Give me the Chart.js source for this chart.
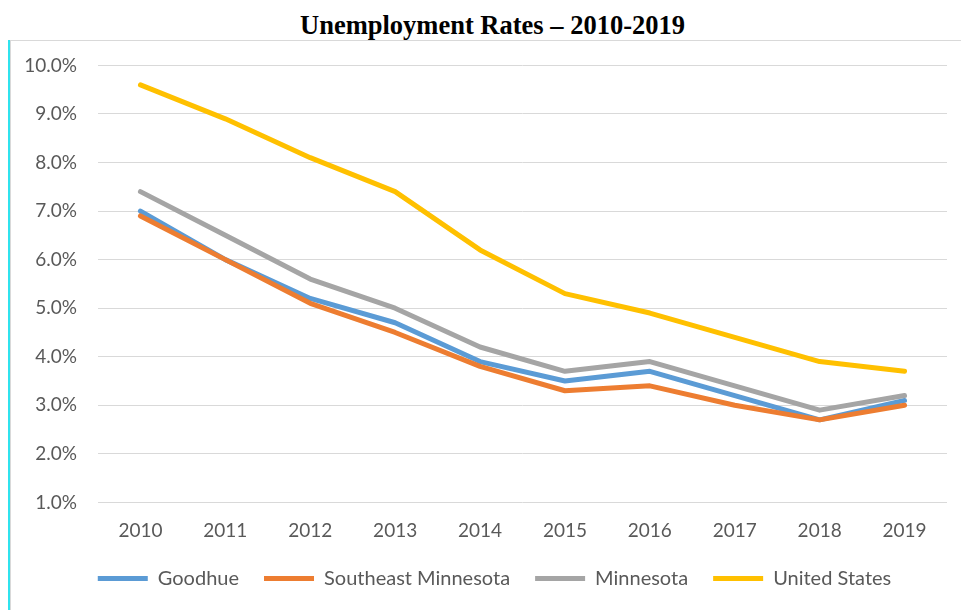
<!DOCTYPE html>
<html>
<head>
<meta charset="utf-8">
<script src="https://cdn.jsdelivr.net/npm/chart.js@4/dist/chart.umd.min.js"></script>
<style>
  html, body { margin: 0; padding: 0; background: #fff; overflow: hidden; }
  #title {
    position: absolute; left: 0; top: 10px; width: 985px; text-align: center;
    font: bold 26.5px "Liberation Serif", "Times New Roman", serif; color: #000;
  }
  #cyan { position: absolute; left: 8px; top: 40px; width: 2px; height: 570px; background: #2fe3ee; }
  #box {
    position: absolute; left: 10px; top: 40px; width: 960px; height: 600px;
    border-top: 1px solid #d9d9d9; border-left: 1px solid #d9d9d9;
  }
  /* canvas sits so the plot area lands where the reference has it */
  #wrap { position: absolute; left: 18px; top: 32.6px; width: 950px; height: 565.4px; }
</style>
</head>
<body>
<div id="title">Unemployment Rates – 2010-2019</div>
<div id="cyan"></div>
<div id="box"></div>
<div id="wrap"><canvas id="myChart"></canvas></div>
<script>
//Data
var years = ['2010', '2011', '2012', '2013', '2014', '2015', '2016', '2017', '2018', '2019'];
var goodhue = [7.0, 6.0, 5.2, 4.7, 3.9, 3.5, 3.7, 3.2, 2.7, 3.1];
var southeastMn = [6.9, 6.0, 5.1, 4.5, 3.8, 3.3, 3.4, 3.0, 2.7, 3.0];
var minnesota = [7.4, 6.5, 5.6, 5.0, 4.2, 3.7, 3.9, 3.4, 2.9, 3.2];
var unitedStates = [9.6, 8.9, 8.1, 7.4, 6.2, 5.3, 4.9, 4.4, 3.9, 3.7];

var tickFont = { family: 'Lato', size: 19 };
var legendFont = { family: 'Lato', size: 20 };
var textColor = '#595959';

// one line series, excel look: thick, no markers
function series(label, data, color, order) {
    return {
        label: label,
        data: data,
        borderColor: color,
        backgroundColor: color,
        borderWidth: 5,
        borderCapStyle: 'round',
        borderJoinStyle: 'round',
        pointRadius: 0,
        pointHoverRadius: 0,
        tension: 0,
        order: order
    };
}

//Push the legend a bit to the right, like the original
var legendNudge = {
    id: 'legendNudge',
    afterLayout: function (chart) {
        chart.legend.left += 12;
        chart.legend.right += 12;
    }
};

var ctx = document.getElementById('myChart');
var myChart = new Chart(ctx, {
    type: 'line',
    data: {
        labels: years,
        datasets: [
            series('Goodhue', goodhue, '#5b9bd5', 3),
            series('Southeast Minnesota', southeastMn, '#ed7d31', 2),
            series('Minnesota', minnesota, '#a5a5a5', 1),
            series('United States', unitedStates, '#ffc000', 0)
        ]
    },
    options: {
        responsive: true,
        maintainAspectRatio: false,
        animation: false,
        layout: { padding: { top: 0, right: 21, left: 0, bottom: 0 } },
        plugins: {
            title: { display: false },
            tooltip: { enabled: false },
            legend: {
                position: 'bottom',
                labels: {
                    color: textColor,
                    font: legendFont,
                    boxWidth: 50,
                    boxHeight: 5,
                    padding: 25,
                    //keep legend in dataset order (order prop is only for drawing)
                    sort: function (a, b) { return a.datasetIndex - b.datasetIndex; },
                    generateLabels: function (chart) {
                        var items = Chart.defaults.plugins.legend.labels.generateLabels(chart);
                        items.forEach(function (it) {
                            it.lineWidth = 0;
                            it.fillStyle = it.strokeStyle;
                        });
                        return items;
                    }
                }
            }
        },
        scales: {
            x: {
                offset: true,
                grid: { display: false, drawTicks: false },
                border: { display: false },
                ticks: { color: textColor, font: tickFont, padding: 17, maxRotation: 0 },
                afterFit: function (scale) { scale.height = 41; }
            },
            y: {
                min: 1,
                max: 10,
                grid: { color: '#d9d9d9', lineWidth: 1, drawTicks: false },
                border: { display: false },
                ticks: {
                    stepSize: 1,
                    color: textColor,
                    font: tickFont,
                    padding: 21,
                    callback: function (v) { return v.toFixed(1) + '%'; }
                },
                afterFit: function (scale) { scale.width = 80; }
            }
        }
    },
    plugins: [legendNudge]
});
</script>
</body>
</html>
